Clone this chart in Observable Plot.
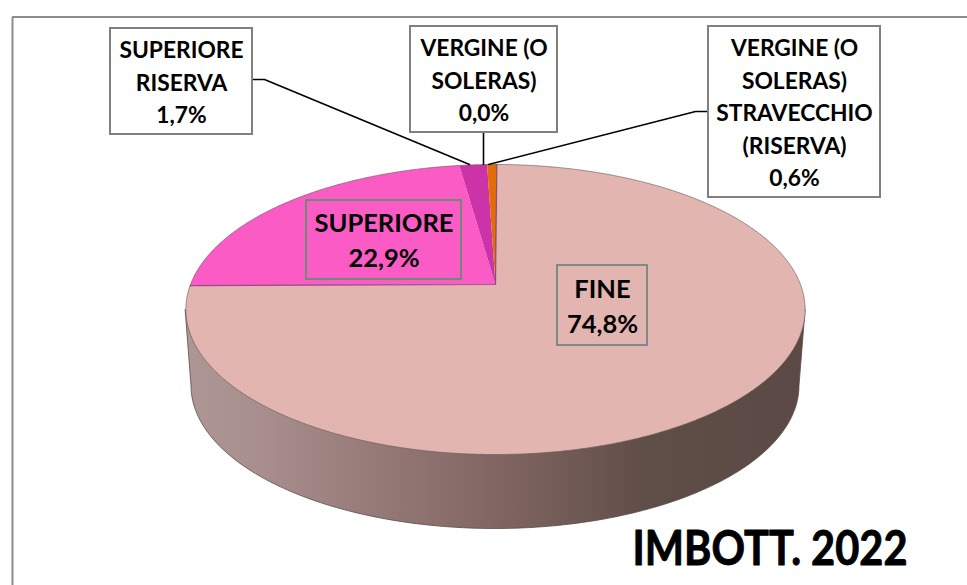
<!DOCTYPE html>
<html lang="it">
<head>
<meta charset="utf-8">
<style>
  html, body { margin: 0; padding: 0; background: #fff; overflow: hidden; }
  svg { display: block; }
</style>
<script src="https://cdn.jsdelivr.net/npm/d3@7"></script>
<script src="https://cdn.jsdelivr.net/npm/@observablehq/plot@0.6"></script>
</head>
<body>
<script>
// Data, clockwise from the top of the pie
const categories = ["FINE", "SUPERIORE", "SUPERIORE RISERVA", "VERGINE (O SOLERAS)", "VERGINE (O SOLERAS) STRAVECCHIO (RISERVA)"];
const shares = [74.8, 22.9, 1.7, 0.0, 0.6];
const sliceColors = ["#e3b5b1", "#fb5bc5", "#cb33a6", "#7030a0", "#e36c0a"];

// Text of the labels
const labelTexts = ["FINE\n74,8%", "SUPERIORE\n22,9%", "SUPERIORE\nRISERVA\n1,7%", "VERGINE (O\nSOLERAS)\n0,0%", "VERGINE (O\nSOLERAS)\nSTRAVECCHIO\n(RISERVA)\n0,6%"];
const chartTitle = "IMBOTT. 2022";

// Label boxes [x1, y1, x2, y2]
const labelBoxes = [[557, 265, 647, 345], [306, 200, 461, 279], [110, 28, 252, 134], [410, 26, 557, 132], [708, 26, 880, 197]];
const boxStroke = ["#7f8a86", "#6f8a76", "#808080", "#808080", "#808080"];
const boxFill = ["none", "none", "#ffffff", "#ffffff", "#ffffff"];

// Leader lines
const leaders = [
  [[253, 79], [264, 79], [469, 164]],
  [[483, 132], [483, 164]],
  [[707, 111], [695, 111], [488, 164]]
];

// Perspective of the pie: unit circle -> page
const pieCx = 495, pieCy = 284, pieA = 305, pieB = 140.7, pieW = -0.1724, startDeg = 0.3;
const project = (deg) => {
  const t = deg * Math.PI / 180, u = Math.sin(t), v = -Math.cos(t), d = 1 + pieW * v;
  return {x: pieCx + pieA * u / d, y: pieCy + pieB * v / d};
};

// Slices computed from the shares
const slices = [];
let cum = 0;
categories.forEach((name, i) => {
  const from = startDeg + cum * 3.6, to = startDeg + (cum + shares[i]) * 3.6;
  cum += shares[i];
  if (shares[i] <= 0) return;
  slices.push({x: pieCx, y: pieCy, name});
  const steps = Math.max(2, Math.ceil((to - from) * 2));
  for (let s = 0; s <= steps; s++) slices.push({...project(from + (to - from) * s / steps), name});
});

// Whole upper rim, and the side wall made of the widest points of the upper rim and a lower ellipse
const rim = d3.range(0, 721).map((k) => project(k / 2));
const lowCx = 494.5, lowCy = 385, lowRx = 304, lowRy = 143;
const side = [{x: 184.6, y: 309}];
for (let a = 180; a >= 0; a -= 1) {
  const t = a * Math.PI / 180;
  side.push({x: lowCx + lowRx * Math.cos(t), y: lowCy + lowRy * Math.sin(t)});
}
side.push({x: 804.6, y: 309});

const boxData = labelBoxes.map(([x1, y1, x2, y2], i) => ({x1, y1, x2, y2, text: labelTexts[i], stroke: boxStroke[i], fill: boxFill[i]}));
const insideLabels = boxData.slice(0, 2);
const outsideLabels = boxData.slice(2);
const leaderData = leaders.flatMap((pts, id) => pts.map(([x, y]) => ({x, y, id})));
const spokes = [project(startDeg + 74.8 * 3.6), {x: pieCx, y: pieCy}, project(startDeg)];

const labelMark = (rows, fontSize, lineHeight, shift) => Plot.text(rows, {
  x: (d) => (d.x1 + d.x2) / 2,
  y: (d) => (d.y1 + d.y2) / 2 + shift,
  text: "text",
  fontFamily: "Lato",
  fontWeight: 700,
  fontSize,
  lineHeight,
  lineAnchor: "middle",
  fill: "#000000"
});

const chart = Plot.plot({
  width: 967,
  height: 585,
  margin: 0,
  x: {type: "linear", domain: [0, 967], range: [0, 967], axis: null},
  y: {type: "linear", domain: [0, 585], range: [0, 585], axis: null},
  color: {domain: categories, range: sliceColors},
  style: {background: "#ffffff", overflow: "hidden"},
  marks: [
    // Frame: only its top and left sides are in the picture
    Plot.line([{x: 967, y: 16.5}, {x: 12, y: 16.5}, {x: 12, y: 585}], {x: "x", y: "y", stroke: "#8c8c8c", strokeWidth: 2, strokeLinejoin: "miter"}),
    // Pie
    Plot.line(side, {x: "x", y: "y", fill: "url(#sideGrad)", stroke: "#5d4a47", strokeWidth: 0.8}),
    Plot.line(slices, {x: "x", y: "y", z: "name", fill: "name", stroke: "none"}),
    Plot.line(rim, {x: "x", y: "y", stroke: "#6d5a5a", strokeWidth: 0.8, strokeOpacity: 0.8}),
    Plot.line(spokes, {x: "x", y: "y", stroke: "#7a3a6c", strokeWidth: 1.2, strokeOpacity: 0.8}),
    // Leader lines
    Plot.line(leaderData, {x: "x", y: "y", z: "id", stroke: "#000000", strokeWidth: 1.6}),
    // Labels
    Plot.rect(boxData, {x1: "x1", x2: "x2", y1: "y1", y2: "y2", fill: (d) => d.fill === "none" ? "transparent" : d.fill, stroke: "stroke", strokeWidth: 2}),
    labelMark(insideLabels, 25.5, 1.37, -1.5),
    labelMark(outsideLabels, 22.8, 1.425, -1),
    Plot.text([chartTitle], {
      x: () => 769.5,
      y: () => 549,
      text: (d) => d,
      fontFamily: "Lato",
      fontWeight: 700,
      fontSize: 47,
      lineAnchor: "middle",
      fill: "#000000",
      stroke: "#000000",
      strokeWidth: 0.9
    })
  ]
});

const defs = d3.select(chart).insert("defs", ":first-child");
const grad = defs.append("linearGradient")
  .attr("id", "sideGrad")
  .attr("gradientUnits", "userSpaceOnUse")
  .attr("x1", 184).attr("x2", 805).attr("y1", 0).attr("y2", 0);
[[0, "#ad9694"], [0.12, "#a88f8d"], [0.35, "#917573"], [0.55, "#7a615e"], [0.75, "#5f4d48"], [1, "#5b4945"]]
  .forEach(([o, c]) => grad.append("stop").attr("offset", o).attr("stop-color", c));

// The reference's title is in a narrower face: condense the Lato glyphs to the same width
d3.select(chart).selectAll("text")
  .filter(function () { return this.textContent === chartTitle; })
  .attr("textLength", 275)
  .attr("lengthAdjust", "spacingAndGlyphs");

document.body.appendChild(chart);
</script>
</body>
</html>
